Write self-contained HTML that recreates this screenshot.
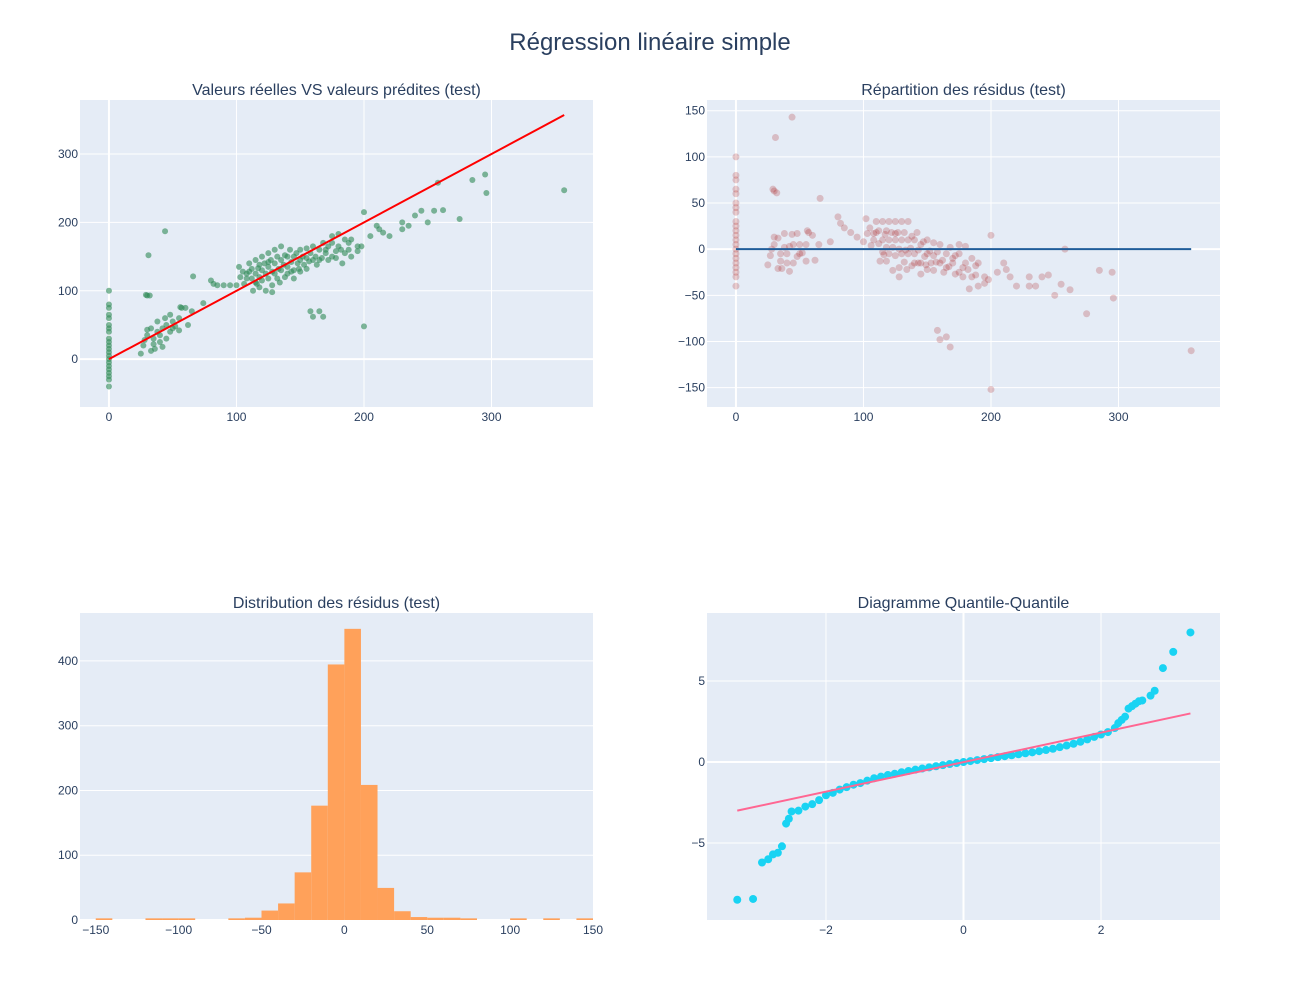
<!DOCTYPE html>
<html><head><meta charset="utf-8">
<style>
html,body{margin:0;padding:0;background:#fff;}
svg{display:block;font-family:"Liberation Sans",Arial,sans-serif;}
</style></head>
<body>
<svg id="fig" width="1300" height="1000" xmlns="http://www.w3.org/2000/svg">
<text x="650" y="50" text-anchor="middle" font-size="24" fill="#2a3f5f">Régression linéaire simple</text>
</svg>
<script>
// ---------- data ----------
const predVals = [0,0,0,0,0,0,0,0,0,0,0,0,0,0,0,0,0,0,0,0,0,0,
30,32,27,25,33,40,35,38,42,45,50,55,52,48,60,57,44,38,30,28,35,45,50,55,40,33,48,30,42,36,65,62,
44,31,29,66,74,56,85,90,95,100,80,82,
158,165,160,168,200,
200,230,240,245,255,258,285,295,296,357,215,180,185,190,198,210,220,230,235,275,262,250,212,205,195,188,175,170,182,
102,105,108,110,112,112,115,115,116,118,118,120,120,120,122,123,125,125,125,127,128,128,130,130,130,132,133,134,135,135,135,137,138,138,140,140,140,142,143,145,145,145,147,148,150,150,150,152,153,155,155,155,158,160,160,162,163,165,167,168,170,172,175,175,178,180,183,185,190,113,118,123,128,115,108,106,103,110,117,125,132,143,149,157,165,172,178,188,195];
const actualVals = [100,80,75,60,50,40,30,25,20,15,10,5,0,-5,-10,-15,-20,-25,-30,-40,65,45,
93,93,20,8,12,25,30,40,45,50,55,60,48,40,75,75,60,55,35,28,22,30,45,42,35,45,65,43,18,15,70,50,
187,152,94,121,82,76,108,108,108,108,115,110,
70,70,62,62,48,
215,200,210,217,217,258,262,270,243,247,185,183,175,175,165,195,180,190,195,205,218,200,190,180,165,170,180,160,160,
135,128,125,140,118,132,145,125,110,138,120,150,130,115,140,125,155,135,118,145,128,108,160,140,125,150,132,112,165,145,130,138,152,120,150,135,125,160,142,150,130,118,155,140,160,145,128,150,138,162,148,132,155,165,145,150,138,160,148,170,155,165,150,170,158,165,140,155,150,100,105,100,98,112,118,110,120,128,133,142,118,128,132,143,145,145,148,160,158];
const histBinStart = [-150,-120,-110,-100,-70,-60,-50,-40,-30,-20,-10,0,10,20,30,40,50,60,70,100,120,140];
const histCounts   = [1,1,1,1,1,2,13,24,72,175,393,448,207,48,12,3,2,2,1,1,1,1];
const qqTheo = [-3.29,-3.06,-2.93,-2.84,-2.77,-2.7,-2.64,-2.58,-2.54,-2.5,-2.4,-2.3,-2.2,-2.1,-2.0,-1.9,-1.8,-1.7,-1.6,-1.5,-1.4,-1.3,-1.2,-1.1,-1.0,-0.9,-0.8,-0.7,-0.6,-0.5,-0.4,-0.3,-0.2,-0.1,0,0.1,0.2,0.3,0.4,0.5,0.6,0.7,0.8,0.9,1.0,1.1,1.2,1.3,1.4,1.5,1.6,1.7,1.8,1.9,2.0,2.1,2.2,2.25,2.3,2.35,2.4,2.45,2.5,2.55,2.6,2.72,2.78,2.9,3.05,3.3];
const qqSample = [-8.5,-8.45,-6.2,-6.0,-5.7,-5.6,-5.2,-3.8,-3.5,-3.05,-3.0,-2.75,-2.6,-2.35,-2.05,-1.9,-1.7,-1.55,-1.4,-1.3,-1.15,-1.0,-0.9,-0.8,-0.72,-0.63,-0.55,-0.47,-0.4,-0.33,-0.26,-0.19,-0.12,-0.06,0,0.06,0.12,0.18,0.24,0.3,0.36,0.42,0.48,0.54,0.6,0.67,0.74,0.82,0.92,1.02,1.13,1.25,1.4,1.55,1.7,1.85,2.1,2.4,2.6,2.8,3.3,3.45,3.6,3.75,3.8,4.1,4.4,5.8,6.8,8.0];
const qqLineX = [-3.29,3.3];
const qqLineY = [-3.0,3.0];
const fitLineX = [0,357];
const xTicks1 = [0,100,200,300];
const yTicks1 = [0,100,200,300];
const yTicks2 = [-150,-100,-50,0,50,100,150];
const xTicks3 = [-150,-100,-50,0,50,100,150];
const yTicks3 = [0,100,200,300,400];
const xTicks4 = [-2,0,2];
const yTicks4 = [-5,0,5];

// ---------- helpers ----------
const NS='http://www.w3.org/2000/svg';
const svg=document.getElementById('fig');
function mk(tag,attrs,parent){const e=document.createElementNS(NS,tag);for(const k in attrs)e.setAttribute(k,attrs[k]);(parent||svg).appendChild(e);return e;}
function fmt(v){return v<0?'\u2212'+Math.abs(v):String(v);}
function panel(name,x0,y0,w,h,xr,yr,xt,yt,title,noXGrid){
  const g=mk('g',{});
  
  
  const bg=mk('rect',{x:x0,y:y0,width:w,height:h,fill:'#e5ecf6'},g);
  
  
  const sx=v=>x0+(v-xr[0])/(xr[1]-xr[0])*w;
  const sy=v=>y0+h-(v-yr[0])/(yr[1]-yr[0])*h;
  xt.forEach(v=>{
    if(!noXGrid){
      const gl=mk('line',{x1:sx(v),x2:sx(v),y1:y0,y2:y0+h,stroke:'#fff','stroke-width':v===0?2:1},g);
      
      
    }
    const t=mk('text',{x:sx(v),y:y0+h+14,'text-anchor':'middle','font-size':12,fill:'#2a3f5f'},g);
    t.textContent=fmt(v);
    
    
  });
  yt.forEach(v=>{
    const gl=mk('line',{x1:x0,x2:x0+w,y1:sy(v),y2:sy(v),stroke:'#fff','stroke-width':v===0?2:1},g);
    
    
    const t=mk('text',{x:x0-2,y:sy(v)+4,'text-anchor':'end','font-size':12,fill:'#2a3f5f'},g);
    t.textContent=fmt(v);
    
    
  });
  const tt=mk('text',{x:x0+w/2,y:y0-5,'text-anchor':'middle','font-size':16,fill:'#2a3f5f'},g);
  tt.textContent=title;
  
  
  const clip=mk('g',{},g);
  return {g:clip,sx,sy};
}

// ---------- panel 1 ----------
const p1=panel('actual-vs-predicted',80,100,513,307,[-22.7,379.6],[-70,379],xTicks1,yTicks1,'Valeurs réelles VS valeurs prédites (test)');
predVals.forEach((px,i)=>{
  const c=mk('circle',{cx:p1.sx(px),cy:p1.sy(actualVals[i]),r:3,fill:'#2e8b57','fill-opacity':0.6},p1.g);
  
  
});
const fl=mk('line',{x1:p1.sx(fitLineX[0]),y1:p1.sy(fitLineX[0]),x2:p1.sx(fitLineX[1]),y2:p1.sy(fitLineX[1]),stroke:'red','stroke-width':2},p1.g);



// ---------- panel 2 ----------
const p2=panel('residuals-scatter',707,100,513,307,[-22.7,379.6],[-171,161.6],xTicks1,yTicks2,'Répartition des résidus (test)');
predVals.forEach((px,i)=>{
  const c=mk('circle',{cx:p2.sx(px),cy:p2.sy(actualVals[i]-px),r:3.5,fill:'#a00000','fill-opacity':0.2},p2.g);
  
  
});
const zl=mk('line',{x1:p2.sx(fitLineX[0]),y1:p2.sy(0),x2:p2.sx(fitLineX[1]),y2:p2.sy(0),stroke:'#1f5c99','stroke-width':2},p2.g);



// ---------- panel 3 ----------
const p3=panel('residuals-histogram',80,613,513,307,[-159.5,150],[0,474],xTicks3,yTicks3,'Distribution des résidus (test)',true);
histBinStart.forEach((b,i)=>{
  const x1=p3.sx(b),x2=p3.sx(b+10),y=p3.sy(histCounts[i]);
  const r=mk('rect',{x:x1,y:y-1,width:x2-x1,height:p3.sy(0)-y+1,fill:'#ffa15a'},p3.g);
  
  
});

// ---------- panel 4 ----------
const p4=panel('qq-plot',707,613,513,307,[-3.73,3.73],[-9.75,9.2],xTicks4,yTicks4,'Diagramme Quantile-Quantile');
qqTheo.forEach((t,i)=>{
  const c=mk('circle',{cx:p4.sx(t),cy:p4.sy(qqSample[i]),r:4,fill:'#19d3f3'},p4.g);
  
  
});
const ql=mk('line',{x1:p4.sx(qqLineX[0]),y1:p4.sy(qqLineY[0]),x2:p4.sx(qqLineX[1]),y2:p4.sy(qqLineY[1]),stroke:'#ff6692','stroke-width':2},p4.g);


</script>
</body></html>
